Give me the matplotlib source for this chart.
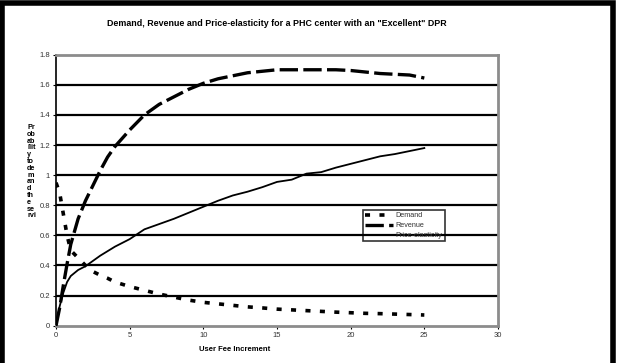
import matplotlib
matplotlib.use('agg')
import matplotlib.pyplot as plt
from matplotlib.patches import Rectangle
from matplotlib.transforms import Bbox

plt.rcParams['font.family'] = ['Liberation Sans', 'DejaVu Sans']

# values
fee = [0, 0.25, 0.5, 0.75, 1, 1.5, 2, 2.5, 3, 3.5, 4, 5, 6, 7, 8, 9, 10,
       11, 12, 13, 14, 15, 16, 17, 18, 19, 20, 21, 22, 23, 24, 25]
demand = [0.95, 0.88, 0.74, 0.60, 0.50, 0.45, 0.40, 0.36, 0.335, 0.315, 0.29,
          0.26, 0.235, 0.21, 0.19, 0.17, 0.155, 0.145, 0.135, 0.125, 0.118,
          0.11, 0.105, 0.10, 0.095, 0.09, 0.086, 0.082, 0.08, 0.077, 0.074, 0.071]
revenue = [0, 0.12, 0.27, 0.41, 0.54, 0.71, 0.83, 0.93, 1.03, 1.12, 1.19,
           1.30, 1.40, 1.47, 1.52, 1.57, 1.61, 1.64, 1.66, 1.68, 1.69,
           1.70, 1.70, 1.70, 1.70, 1.70, 1.695, 1.685, 1.675, 1.67, 1.665, 1.645]
elasticity = [0, 0.13, 0.22, 0.29, 0.33, 0.37, 0.395, 0.43, 0.465, 0.495, 0.525,
              0.575, 0.64, 0.675, 0.71, 0.75, 0.79, 0.83, 0.865, 0.89, 0.92,
              0.955, 0.97, 1.01, 1.02, 1.05, 1.075, 1.10, 1.125, 1.14, 1.16, 1.18]

yticks = [0, 0.2, 0.4, 0.6, 0.8, 1.0, 1.2, 1.4, 1.6, 1.8]
ytick_labels = ['0', '0.2', '0.4', '0.6', '0.8', '1', '1.2', '1.4', '1.6', '1.8']
xticks = [0, 5, 10, 15, 20, 25, 30]
ylabel_lines = ['Pr', 'ob', 'ab', 'ilit', 'y', 'to', 'de', 'm', 'an', 'd', 'th', 'e', 'se', 'rvi', 'ce']

fig = plt.figure(figsize=(6.17, 3.63), dpi=100)
ax = fig.add_axes([0.0908, 0.1028, 0.7163, 0.7465])

for y in yticks[1:-1]:
    ax.axhline(y, color='black', lw=1.6, zorder=1)

ax.plot(fee, demand, color='black', lw=2.6, dashes=(1.4, 2.6), label='Demand', zorder=3)
ax.plot(fee, revenue, color='black', lw=2.4, dashes=(5.5, 1.6), label='Revenue', zorder=3)
ax.plot(fee, elasticity, color='black', lw=1.3, label='Price-elasticity', zorder=3)

ax.set_xlim(0, 30)
ax.set_ylim(0, 1.8)
ax.set_xticks(xticks)
ax.set_yticks(yticks)
ax.set_yticklabels(ytick_labels)
ax.tick_params(labelsize=5.5, labelcolor='#333333', length=2.5, width=0.8, pad=2)

for s in ['top', 'right', 'bottom']:
    ax.spines[s].set_color('#8c8c8c')
    ax.spines[s].set_linewidth(2)
ax.spines['left'].set_color('black')
ax.spines['left'].set_linewidth(1.2)

ax.set_title('Demand, Revenue and Price-elasticity for a PHC center with an "Excellent" DPR',
             fontsize=6.4, fontweight='bold', pad=21)
ax.set_xlabel('User Fee Increment', fontsize=5.5, fontweight='bold')
ax.xaxis.set_label_coords(0.405, -0.075)

# wrapped y label; its last line is cut off in the original
yl = fig.text(27 / 617, 1 - 124 / 363, '\n'.join(ylabel_lines), fontsize=5.2, fontweight='bold',
              va='top', ha='left', linespacing=0.96)
yl.set_clip_box(Bbox.from_extents(0, 363 - 219, 617, 363))

leg = ax.legend(loc='upper left', bbox_to_anchor=(0.695, 0.427), fontsize=5.2,
                frameon=True, fancybox=False, edgecolor='black', facecolor='none',
                handlelength=3.8, handletextpad=0.4, borderpad=0.3, labelspacing=0.4,
                borderaxespad=0)
leg.get_frame().set_linewidth(1.2)
for txt in leg.get_texts():
    txt.set_color('#333333')

# outer frame around the whole figure
fig.patches.append(Rectangle((0.003, -0.02), 0.991, 1.013, transform=fig.transFigure,
                             fill=False, edgecolor='black', lw=4))

fig.savefig('out.png', dpi=100)
